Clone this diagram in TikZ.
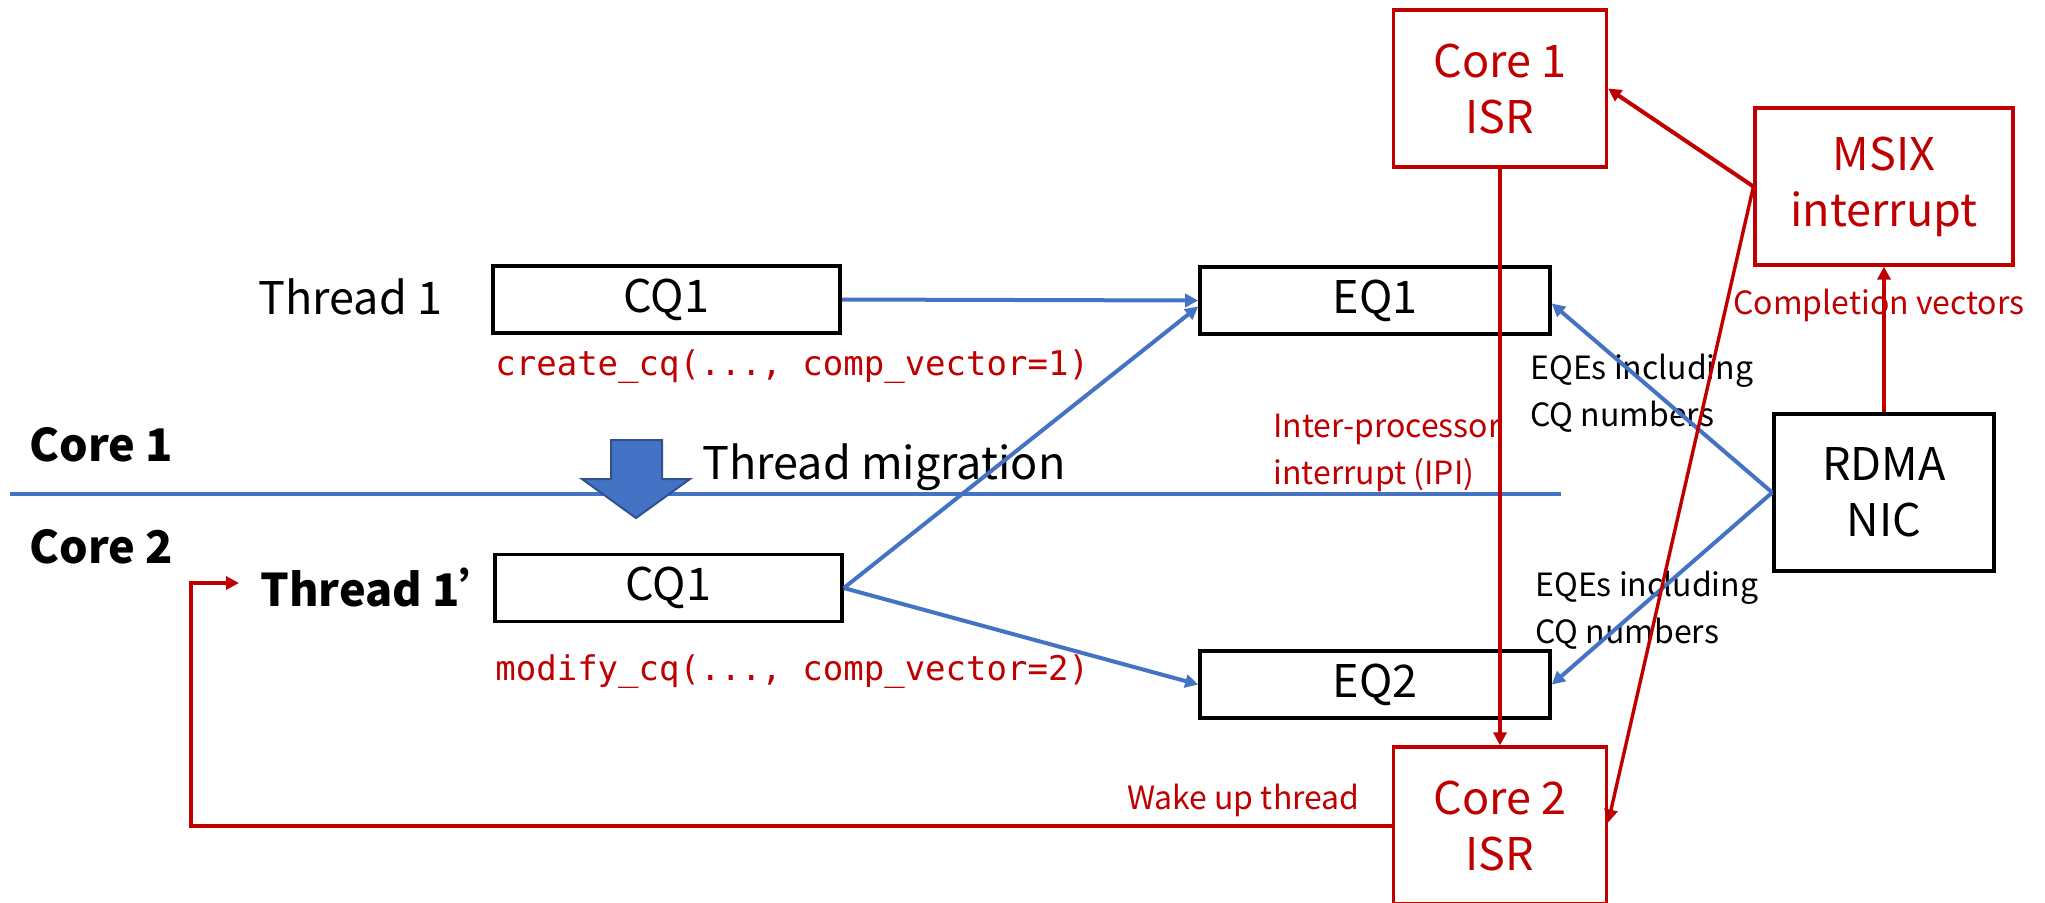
\documentclass[tikz,border=0pt]{standalone}
\usepackage{fontspec}
\setmainfont{Noto Sans CJK SC}
\setmonofont{DejaVu Sans Mono}
\usetikzlibrary{arrows.meta}
\definecolor{myred}{HTML}{C00000}
\definecolor{myblue}{HTML}{4472C4}
\definecolor{darkblue}{HTML}{2F528F}
\tikzset{
  bigfont/.style={font=\fontsize{22.5}{28}\selectfont},
  smallfont/.style={font=\fontsize{16}{23.5}\selectfont},
  monofont/.style={font=\ttfamily\fontsize{17}{20}\selectfont},
  qbox/.style={draw=black, line width=1.8pt, fill=white, inner sep=0pt, bigfont},
  rbox/.style={draw=myred, line width=1.6pt, fill=white, inner sep=0pt, bigfont, text=myred, align=center},
  bluearrow/.style={draw=myblue, line width=2pt, -{Triangle[length=6.5pt,width=6.5pt]}},
  redarrow/.style={draw=myred, line width=1.7pt, -{Triangle[length=6.5pt,width=6.5pt]}},
  lbl/.style={inner sep=0pt, anchor=west}
}
\begin{document}
\begin{tikzpicture}[x=0.5pt,y=-0.5pt]
\clip (0,0) rectangle (2045,902);
\fill[white] (0,0) rectangle (2045,902);

% separator
\draw[myblue, line width=2pt] (10,494) -- (1561,494);

% boxes
\node[qbox, minimum width=173.5pt, minimum height=33.5pt] (cqa) at (666.5,299.5) {CQ1};
\node[qbox, minimum width=173.5pt, minimum height=33.5pt] (cqb) at (668.5,588) {CQ1};
\node[qbox, minimum width=175pt, minimum height=33.5pt] (eqa) at (1375,300.5) {EQ1};
\node[qbox, minimum width=175pt, minimum height=33.5pt] (eqb) at (1375,684.5) {EQ2};
\node[qbox, minimum width=110pt, minimum height=78.5pt, align=center] (nic) at (1884,492.5) {RDMA\\NIC};
\node[rbox, minimum width=106.5pt, minimum height=78.5pt] (isra) at (1500,88.5) {Core 1\\ISR};
\node[rbox, minimum width=106.5pt, minimum height=78.5pt] (isrb) at (1500,825.5) {Core 2\\ISR};
\node[rbox, minimum width=129pt, minimum height=78.5pt] (msix) at (1884,186.5) {MSIX\\interrupt};

% labels
\node[lbl, bigfont] (t1) at (258,297) {Thread 1};
\node[lbl, bigfont, font=\fontsize{22.5}{28}\selectfont\bfseries] (c1) at (29,445) {Core 1};
\node[lbl, bigfont, font=\fontsize{22.5}{28}\selectfont\bfseries] (c2) at (29,547) {Core 2};
\node[lbl, bigfont, font=\fontsize{22.5}{28}\selectfont\bfseries] (t1p) at (260,587) {Thread 1’};
\node[lbl, monofont, text=myred] (create) at (495,367) {create\_cq(..., comp\_vector=1)};
\node[lbl, monofont, text=myred] (modify) at (495,672) {modify\_cq(..., comp\_vector=2)};
\node[lbl, bigfont] (mig) at (702,467) {Thread migration};
\node[lbl, smallfont, align=left] (eqea) at (1530,393.5) {EQEs including\\CQ numbers};
\node[lbl, smallfont, align=left] (eqeb) at (1535,610.5) {EQEs including\\CQ numbers};
\node[lbl, smallfont, align=left, text=myred] (ipi) at (1273,452.5) {Inter-processor\\interrupt (IPI)};
\node[lbl, smallfont, text=myred] (compv) at (1733,305) {Completion vectors};
\node[inner sep=0pt, anchor=east, smallfont, text=myred] (wake) at (1360,800) {Wake up thread};

% migration block arrow
\draw[fill=myblue, draw=darkblue, line width=1pt]
  (611,440) -- (662,440) -- (662,479) -- (690,479) -- (636,518) -- (582,479) -- (611,479) -- cycle;

% blue connectors
\draw[bluearrow] (cqa.east) -- (eqa.west);
\draw[bluearrow] (cqb.east) -- ([yshift=-3pt]eqa.west);
\draw[bluearrow] (cqb.east) -- (eqb.west);
\draw[bluearrow] (nic.west) -- ([yshift=-1.5pt]eqa.east);
\draw[bluearrow] (nic.west) -- (eqb.east);

% red connectors
\coordinate (wtip) at (239,583);
\draw[redarrow] (isra.south) -- (isrb.north);
\draw[redarrow, line width=2pt] (msix.west) -- (isra.east);
\draw[redarrow] (msix.west) -- ([yshift=1.5pt]isrb.east);
\draw[redarrow, line width=2pt] (nic.north) -- (msix.south);
\draw[redarrow, line width=2pt] (isrb.west) -| (191,583) -- (wtip);
\end{tikzpicture}
\end{document}
